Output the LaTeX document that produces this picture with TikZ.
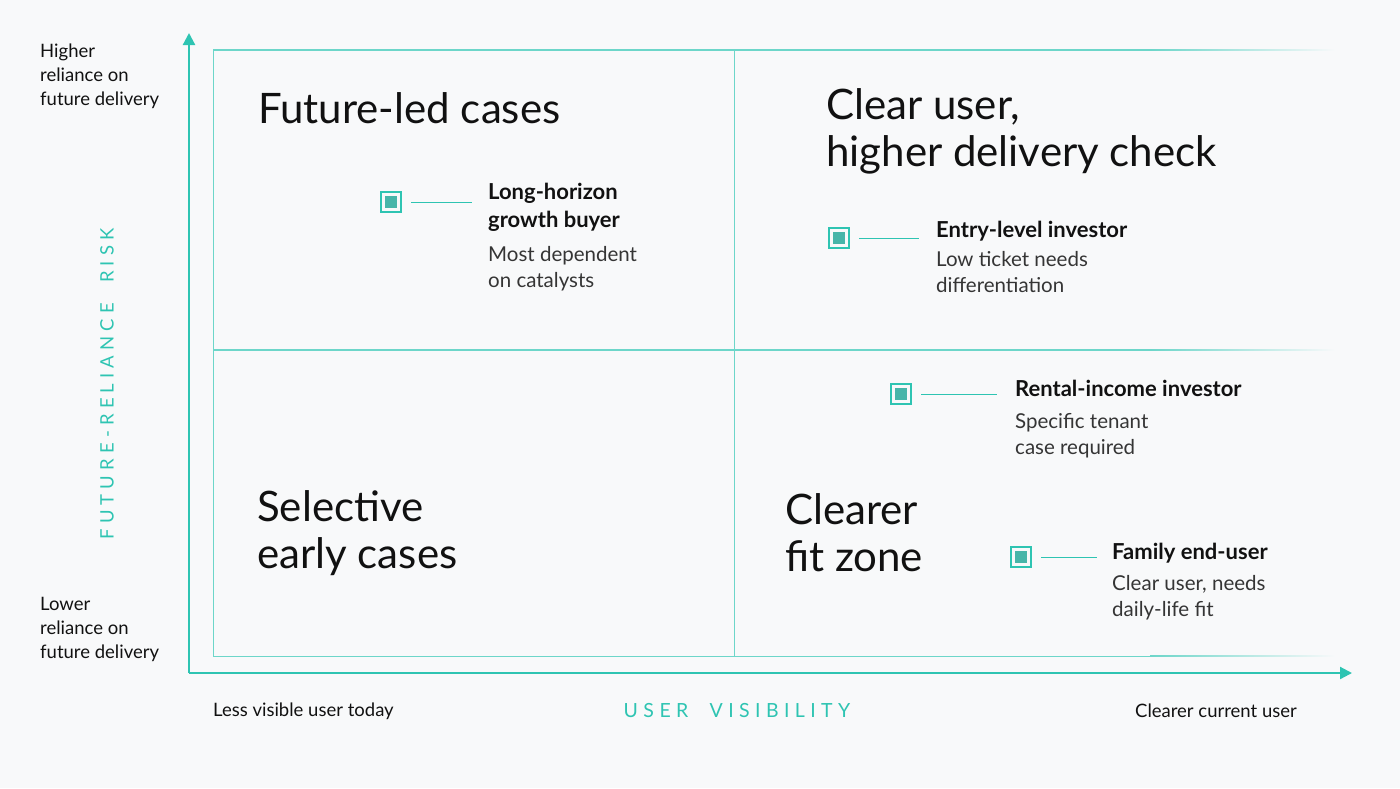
\documentclass[tikz,border=0pt]{standalone}
\usepackage{fontspec}
\setmainfont{Lato}
\usetikzlibrary{arrows.meta}
\definecolor{teal1}{HTML}{2EC4B2}
\definecolor{teal2}{HTML}{26A89A}
\definecolor{bg}{HTML}{F8F9FA}
\definecolor{ink}{HTML}{111111}
\begin{document}
\begin{tikzpicture}[x=1pt,y=-1pt,
  grid/.style={draw=teal1!70,line width=0.9pt},
  title/.style={anchor=west,align=left,font=\fontsize{42}{47}\selectfont,text=ink,inner sep=0pt},
  hd/.style={anchor=north west,align=left,font=\bfseries\fontsize{22}{28}\selectfont,text=ink,inner sep=0pt},
  sub/.style={anchor=north west,align=left,font=\fontsize{20.5}{26}\selectfont,text=ink!85,inner sep=0pt},
  ax/.style={anchor=west,align=left,font=\fontsize{18.5}{24}\selectfont,text=ink,inner sep=0pt},
  mk/.style={draw=teal1,line width=2pt,fill=bg,minimum size=20pt,inner sep=0pt,
    path picture={\fill[teal2!85] ([shift={(-6pt,-6pt)}]path picture bounding box.center) rectangle ([shift={(6pt,6pt)}]path picture bounding box.center);}},
  ln/.style={draw=teal1,line width=1pt,shorten <=9pt}]
\fill[bg] (0,0) rectangle (1400,788);
\useasboundingbox (0,0) rectangle (1400,788);
% grid
\draw[grid] (213,656) -- (213,50);
\draw[grid] (734,50) -- (734,656);
\draw[grid] (213,656) -- (1150,656);
\shade[left color=teal1!70,right color=teal1!70] (213,49.5) rectangle (1150,50.5);
\shade[left color=teal1!70,right color=bg] (1150,49.5) rectangle (1335,50.5);
\shade[left color=teal1!70,right color=teal1!70] (213,349.5) rectangle (1150,350.5);
\shade[left color=teal1!70,right color=bg] (1150,349.5) rectangle (1335,350.5);
\shade[left color=teal1!70,right color=bg] (1150,655.5) rectangle (1335,656.5);
% axes
\coordinate (o) at (189,673);
\coordinate (yt) at (189,33);
\coordinate (xt) at (1352,673);
\draw[teal1,line width=2.2pt,-{Triangle[length=12pt,width=12pt]}] (o) -- (yt);
\draw[teal1,line width=2.2pt,-{Triangle[length=12pt,width=12pt]}] (o) -- (xt);
% axis labels
\node[ax,anchor=north west] (yh) at (40,44) {Higher\\reliance on\\future delivery};
\node[ax,anchor=north west] (yl) at (40,597) {Lower\\reliance on\\future delivery};
\node[ax] (xl) at (213,711) {Less visible user today};
\node[ax,anchor=east] (xr) at (1297,711) {Clearer current user};
\node[font=\fontsize{19.5}{20}\selectfont,text=teal1,inner sep=0pt] (xa) at (737,711) {U\;S\;E\;R\;\;\; V\;I\;S\;I\;B\;I\;L\;I\;T\;Y};
\node[font=\fontsize{18.5}{20}\selectfont,text=teal1,inner sep=0pt,rotate=90] (ya) at (107,384) {F\;U\;T\;U\;R\;E\;-\;R\;E\;L\;I\;A\;N\;C\;E\;\;\; R\;I\;S\;K};
% titles
\node[title] (t1) at (258,108) {Future-led cases};
\node[title] (t2) at (826,131) {Clear user,\\higher delivery check};
\node[title] (t3) at (257,533) {Selective\\early cases};
\node[title] (t4) at (785,533) {Clearer\\fit zone};
% items
\node[mk] (m1) at (391,202) {};
\coordinate (e1) at (472,202);
\draw[ln] (m1) -- (e1);
\node[hd] (h1) at (488,183) {Long-horizon\\growth buyer};
\node[sub] (s1) at (488,246) {Most dependent\\on catalysts};

\node[mk] (m2) at (839,238) {};
\coordinate (e2) at (919,238);
\draw[ln] (m2) -- (e2);
\node[hd] (h2) at (936,221) {Entry-level investor};
\node[sub] (s2) at (936,251) {Low ticket needs\\differentiation};

\node[mk] (m3) at (901,394) {};
\coordinate (e3) at (997,394);
\draw[ln] (m3) -- (e3);
\node[hd] (h3) at (1015,380) {Rental-income investor};
\node[sub] (s3) at (1015,413) {Specific tenant\\case required};

\node[mk] (m4) at (1021,557) {};
\coordinate (e4) at (1097,557);
\draw[ln] (m4) -- (e4);
\node[hd] (h4) at (1112,543) {Family end-user};
\node[sub] (s4) at (1112,575) {Clear user, needs\\daily-life fit};
\end{tikzpicture}
\end{document}
